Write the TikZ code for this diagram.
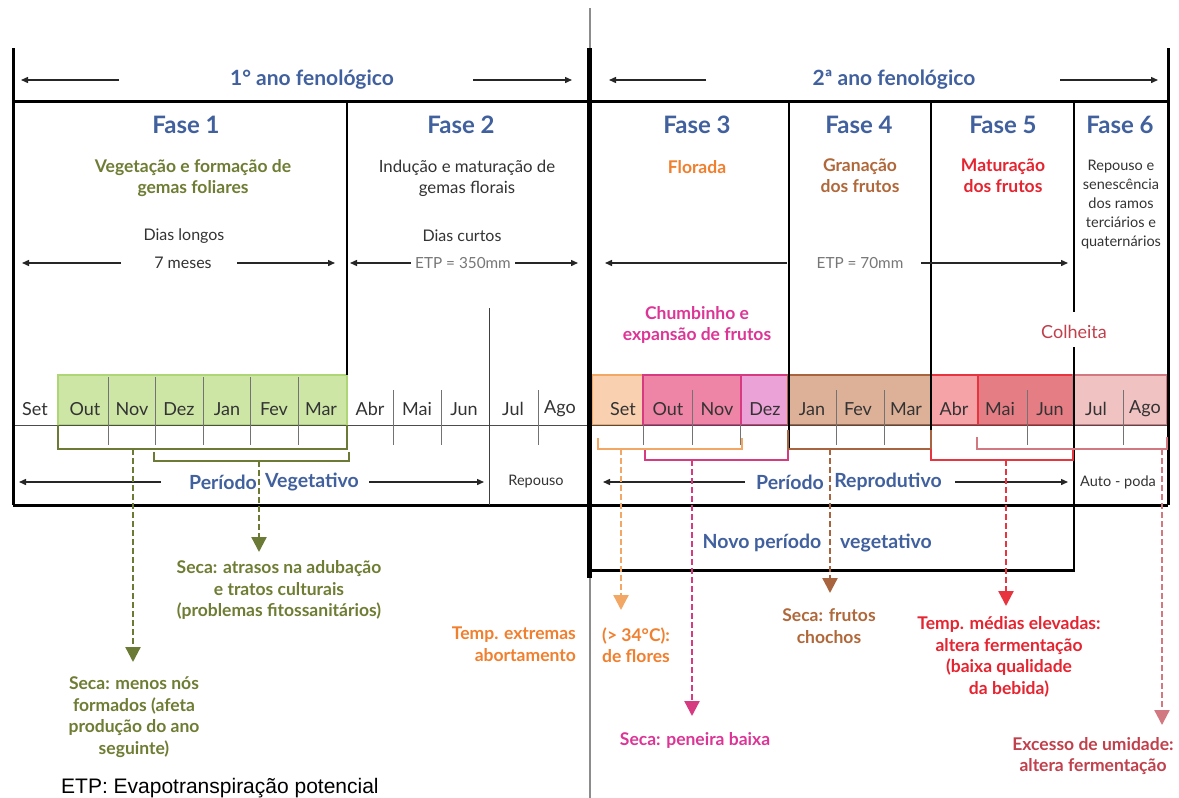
\documentclass[tikz,border=0pt]{standalone}
\usepackage{fontspec}
\setmainfont{Lato}
\newfontfamily\arialfont{Liberation Sans}
\usetikzlibrary{arrows.meta}

\definecolor{fblue}{HTML}{41609E}
\definecolor{olivetx}{HTML}{6E7D33}
\definecolor{oliveln}{HTML}{6B7A35}
\definecolor{greenfill}{HTML}{CDE6A6}
\definecolor{greenbd}{HTML}{AED677}
\definecolor{orangetx}{HTML}{F07F2E}
\definecolor{orangeln}{HTML}{F2A764}
\definecolor{orangefill}{HTML}{F9D0B0}
\definecolor{magtx}{HTML}{DC3596}
\definecolor{magln}{HTML}{D63A80}
\definecolor{pinkfill}{HTML}{EE85A6}
\definecolor{lilacfill}{HTML}{EBA2D6}
\definecolor{browntx}{HTML}{B0683A}
\definecolor{brownln}{HTML}{A8643E}
\definecolor{tanfill}{HTML}{DDB198}
\definecolor{redtx}{HTML}{E52430}
\definecolor{redln}{HTML}{E8343F}
\definecolor{abrfill}{HTML}{F6A3A8}
\definecolor{maifill}{HTML}{E57D84}
\definecolor{rosefill}{HTML}{F1C2C2}
\definecolor{roseln}{HTML}{D27880}
\definecolor{rosetx}{HTML}{C0404C}
\definecolor{greytx}{HTML}{333333}
\definecolor{etpgrey}{HTML}{777777}

\tikzset{
  frameln/.style={line width=3pt, black},
  pdiv/.style={line width=2.6pt, black},
  tarrow/.style={line width=1.4pt, black!85, -{Triangle[length=7pt,width=6pt]}},
  darrow/.style={line width=2.3pt, dash pattern=on 6pt off 3pt, -{Triangle[length=15pt,width=15pt]}},
  brk/.style={line width=2.2pt},
  sepln/.style={line width=0.9pt, black!55},
  mbox/.style={line width=1.6pt},
  tx/.style={inner sep=0pt, align=center},
  fasetx/.style={tx, font=\fontsize{24}{28}\selectfont\bfseries, text=fblue},
  anotx/.style={tx, font=\fontsize{21}{24}\selectfont\bfseries, text=fblue},
  desctx/.style={tx, font=\fontsize{17.5}{21}\selectfont\bfseries},
  daytx/.style={tx, font=\fontsize{16}{19}\selectfont, text=greytx},
  etptx/.style={tx, font=\fontsize{15.3}{18}\selectfont, text=etpgrey},
  monthtx/.style={tx, font=\fontsize{18}{21}\selectfont, text=greytx},
  pertx/.style={tx, font=\fontsize{19.5}{22}\selectfont\bfseries, text=fblue},
  smalltx/.style={tx, font=\fontsize{14.5}{19}\selectfont, text=greytx},
  annot/.style={tx, font=\fontsize{17.5}{21.5}\selectfont\bfseries},
}

\begin{document}
\begin{tikzpicture}[x=1pt,y=-1pt]
\useasboundingbox[fill=white] (0,0) rectangle (1179,798);

% ---------- month boxes (fills) ----------
\draw[mbox, draw=greenbd, fill=greenfill] (58,375) rectangle (347,425);
\draw[mbox, draw=orangeln, fill=orangefill] (592,375) rectangle (643,425);
\draw[mbox, draw=magln, fill=pinkfill] (643,375) rectangle (741,425);
\draw[mbox, draw=magln, fill=lilacfill] (741,375) rectangle (788,425);
\draw[mbox, draw=brownln, fill=tanfill] (788,375) rectangle (931,425);
\draw[mbox, draw=redln, fill=abrfill] (931,375) rectangle (978,425);
\draw[mbox, draw=redln, fill=maifill] (978,375) rectangle (1073,425);
\draw[mbox, draw=roseln, fill=rosefill] (1073,375) rectangle (1167,425);

% ---------- month row line and separators ----------
\coordinate (rowL) at (13,425);
\coordinate (rowR) at (1168,425);
\draw[line width=1pt, black!70] (rowL) -- (rowR);
\foreach \x in {108,155,203,250,298}
  \draw[sepln] (\x,377) -- (\x,445);
\foreach \x in {393,441,538,692,1027,1123}
  \draw[sepln] (\x,390) -- (\x,445);
\foreach \x in {643,740,836,884}
  \draw[sepln] (\x,425) -- (\x,445);
\foreach \x in {836,884}
  \draw[sepln] (\x,390) -- (\x,425);

% ---------- frame ----------
\coordinate (TL) at (13,48);
\coordinate (BL) at (13,505);
\coordinate (TR) at (1168,48);
\coordinate (BR) at (1168,505);
\coordinate (HL) at (13,101);
\coordinate (HR) at (1168,101);
\draw[frameln] (TL) -- (BL);
\draw[frameln] (TR) -- (BR);
\draw[frameln] (HL) -- (HR);
\draw[frameln] (BL) -- (BR);
% central divider
\coordinate (gTop) at (590,8);
\coordinate (mTop) at (589,48);
\coordinate (mBot) at (589,578);
\coordinate (gBot) at (590,798);
\draw[line width=1.2pt, black!45] (gTop) -- (590,48);
\draw[line width=1.2pt, black!45] (590,578) -- (gBot);
\draw[line width=5pt, black] (mTop) -- (mBot);
% phase dividers
\draw[pdiv] (347,101) -- (347,375);
\draw[pdiv] (789,101) -- (789,449);
\draw[pdiv] (931,101) -- (931,449);
\draw[pdiv] (1074,101) -- (1074,312);
\draw[pdiv] (1074,347) -- (1074,570);
\draw[line width=1pt, black!75] (489,308) -- (489,505);
% novo periodo box bottom
\draw[frameln] (589,570) -- (1075,570);

% ---------- brackets ----------
\draw[brk, oliveln] (58,425) -- (58,449) -- (347,449) -- (347,425);
\draw[brk, oliveln] (154,452) -- (154,461) -- (349,461) -- (349,452);
\draw[brk, orangeln] (598,438) -- (598,449) -- (742,449) -- (742,438);
\draw[brk, magln] (645,450) -- (645,460) -- (788,460) -- (788,450);
\draw[brk, brownln] (788,430) -- (788,449) -- (931,449) -- (931,430);
\draw[brk, redln] (931,449) -- (931,460) -- (1073,460) -- (1073,449);
\draw[brk, roseln] (977,437) -- (977,449) -- (1167,449) -- (1167,437);

% ---------- top texts ----------
\node[anotx] (ano1) at (312,80) {1° ano fenológico};
\node[anotx] (ano2) at (894,80) {2ª ano fenológico};
\coordinate (a1s) at (119,80); \coordinate (a1l) at (21,80);
\coordinate (a1t) at (473,80); \coordinate (a1r) at (572,80);
\coordinate (a2s) at (706,80); \coordinate (a2l) at (609,80);
\coordinate (a2t) at (1060,80); \coordinate (a2r) at (1158,80);
\draw[tarrow] (a1s) -- (a1l);
\draw[tarrow] (a1t) -- (a1r);
\draw[tarrow] (a2s) -- (a2l);
\draw[tarrow] (a2t) -- (a2r);

\node[fasetx] (f1) at (186,125) {Fase 1};
\node[fasetx] (f2) at (461,125) {Fase 2};
\node[fasetx] (f3) at (697,125) {Fase 3};
\node[fasetx] (f4) at (859,125) {Fase 4};
\node[fasetx] (f5) at (1003,125) {Fase 5};
\node[fasetx] (f6) at (1120,125) {Fase 6};

\node[desctx, text=olivetx] (d1) at (193,178) {Vegetação e formação de\\gemas foliares};
\node[desctx, font=\fontsize{16.8}{21}\selectfont, text=greytx] (d2) at (467,178) {Indução e maturação de\\gemas florais};
\node[desctx, text=orangetx] (d3) at (697,167) {Florada};
\node[desctx, text=browntx] (d4) at (860,176) {Granação\\dos frutos};
\node[desctx, text=redtx] (d5) at (1003,176) {Maturação\\dos frutos};
\node[smalltx] (d6) at (1121,205) {Repouso e\\senescência\\dos ramos\\terciários e\\quaternários};

\node[daytx] (dl) at (184,236) {Dias longos};
\node[daytx] (sete) at (183,263) {7 meses};
\node[daytx] (dc) at (462,236) {Dias curtos};
\node[etptx] (etp1) at (463,263) {ETP = 350mm};
\node[etptx] (etp2) at (860,263) {ETP = 70mm};
\coordinate (s7s) at (121,263); \coordinate (s7l) at (22,263);
\coordinate (s7t) at (237,263); \coordinate (s7r) at (335,263);
\coordinate (e1s) at (411,263); \coordinate (e1l) at (350,263);
\coordinate (e1t) at (515,263); \coordinate (e1r) at (578,263);
\coordinate (e2s) at (787,263); \coordinate (e2l) at (605,263);
\coordinate (e2t) at (921,263); \coordinate (e2r) at (1068,263);
\draw[tarrow] (s7s) -- (s7l);
\draw[tarrow] (s7t) -- (s7r);
\draw[tarrow] (e1s) -- (e1l);
\draw[tarrow] (e1t) -- (e1r);
\draw[tarrow] (e2s) -- (e2l);
\draw[tarrow] (e2t) -- (e2r);

\node[desctx, text=magtx] (chumb) at (697,325) {Chumbinho e\\expansão de frutos};
\node[desctx, font=\fontsize{18}{21}\selectfont, text=rosetx] (colh) at (1074,332) {Colheita};

% ---------- months ----------
\foreach \m/\x [count=\i] in {Set/35,Out/85,Nov/132,Dez/179,Jan/227,Fev/274,Mar/321,Abr/370,Mai/417,Jun/464,Jul/513,Ago/560}
  \node[monthtx] (mA\i) at (\x,409) {\m};
\foreach \m/\x [count=\i] in {Set/623,Out/668,Nov/717,Dez/765,Jan/812,Fev/858,Mar/906,Abr/954,Mai/1000,Jun/1050,Jul/1096,Ago/1145}
  \node[monthtx] (mB\i) at (\x,409) {\m};

% ---------- periods ----------
\node[pertx] (pv1) at (223,482) {Período};
\node[pertx] (pv2) at (312,482) {Vegetativo};
\node[pertx] (pr1) at (790,482) {Período};
\node[pertx] (pr2) at (888,482) {Reprodutivo};
\node[smalltx] (rep) at (536,482) {Repouso};
\node[smalltx] (auto) at (1118,482) {Auto - poda};
\coordinate (pvs) at (161,482); \coordinate (pvl) at (19,482);
\coordinate (pvt) at (369,482); \coordinate (pvr) at (484,482);
\coordinate (prs) at (745,482); \coordinate (prl) at (603,482);
\coordinate (prt) at (955,482); \coordinate (prr) at (1068,482);
\draw[tarrow] (pvs) -- (pvl);
\draw[tarrow] (pvt) -- (pvr);
\draw[tarrow] (prs) -- (prl);
\draw[tarrow] (prt) -- (prr);

\node[pertx] (nv1) at (762,543) {Novo período};
\node[pertx] (nv2) at (886,543) {vegetativo};

% ---------- annotations ----------
\node[annot, text=olivetx] (an1) at (134,717) {Seca: menos nós\\formados (afeta\\produção do ano\\seguinte)};
\node[annot, text=olivetx] (an2) at (279,590) {Seca: atrasos na adubação\\e tratos culturais\\(problemas fitossanitários)};
\node[annot, text=orangetx, align=right, anchor=east] (an3) at (576,644) {Temp. extremas\\abortamento};
\node[annot, text=orangetx, align=left, anchor=west] (an4) at (602,645) {(> 34°C):\\de flores};
\node[annot, text=magtx] (an5) at (695,740) {Seca: peneira baixa};
\node[annot, text=browntx] (an6) at (829,626) {Seca: frutos\\chochos};
\node[annot, text=redtx] (an7) at (1009,657) {Temp. médias elevadas:\\altera fermentação\\(baixa qualidade\\da bebida)};
\node[annot, text=rosetx] (an8) at (1093,756) {Excesso de umidade:\\altera fermentação};
\node[inner sep=0pt, anchor=west, font=\arialfont\fontsize{21}{24}\selectfont] (etpnote) at (61,788) {ETP: Evapotranspiração potencial};

% ---------- dashed arrows ----------
\coordinate (s1) at (133,449); \coordinate (t1) at (133,662);
\coordinate (s2) at (259,461); \coordinate (t2) at (259,552);
\coordinate (s3) at (621,449); \coordinate (t3) at (621,610);
\coordinate (s4) at (692,460); \coordinate (t4) at (692,716);
\coordinate (s5) at (830,449); \coordinate (t5) at (830,593);
\coordinate (s6) at (1006,460); \coordinate (t6) at (1006,606);
\coordinate (s7) at (1162,449); \coordinate (t7) at (1162,725);
\draw[darrow, oliveln] (s1) -- (t1);
\draw[darrow, oliveln] (s2) -- (t2);
\draw[darrow, orangeln] (s3) -- (t3);
\draw[darrow, magln] (s4) -- (t4);
\draw[darrow, brownln] (s5) -- (t5);
\draw[darrow, redln] (s6) -- (t6);
\draw[darrow, roseln] (s7) -- (t7);
\end{tikzpicture}
\end{document}
